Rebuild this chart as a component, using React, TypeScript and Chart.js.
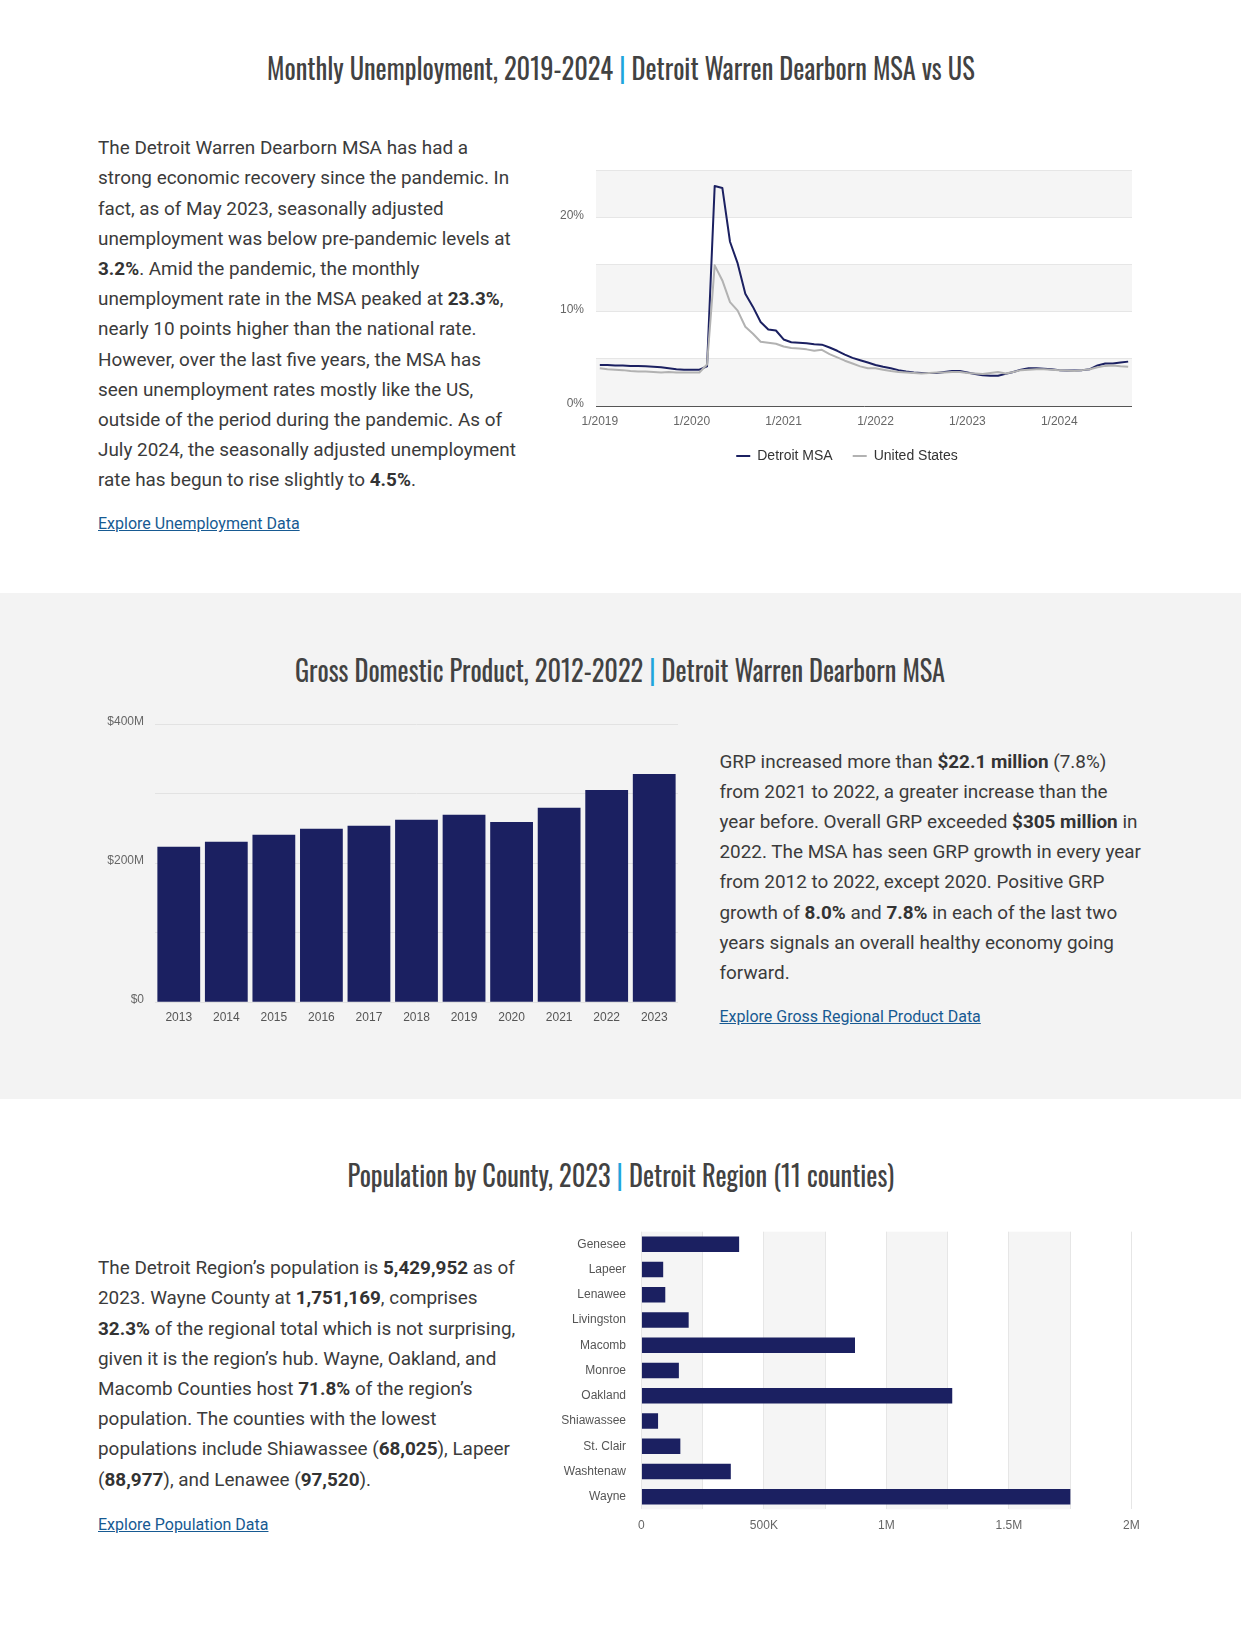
import React, { useEffect, useLayoutEffect, useRef } from 'react';
import { Chart, registerables } from 'chart.js';

Chart.register(...registerables);

const FONT_UI = "'Liberation Sans', Arial, Helvetica, sans-serif";
const FONT_TITLE = "'Oswald', 'Liberation Sans Narrow', 'Arial Narrow', 'DejaVu Sans Condensed', sans-serif";
const FONT_BODY = "Roboto, 'Noto Sans', Arial, sans-serif";
Chart.defaults.font.family = FONT_UI;
Chart.defaults.font.size = 12;
Chart.defaults.color = '#666';

// ---------- DATA ----------
const UNEMP_START_YEAR = 2019;
// Monthly unemployment rate (%), Jan 2019 .. Oct 2024
const UNEMP_DETROIT = [
  4.35, 4.35, 4.3, 4.3, 4.25, 4.25, 4.2, 4.15, 4.1, 4.0, 3.9, 3.85,
  3.85, 3.85, 4.2, 23.3, 23.1, 17.4, 15.1, 11.9, 10.5, 8.9, 8.1, 8.0,
  7.05, 6.76, 6.7, 6.65, 6.55, 6.5, 6.2, 5.85, 5.45, 5.1, 4.85, 4.6,
  4.35, 4.15, 4.0, 3.8, 3.65, 3.55, 3.5, 3.5, 3.5, 3.6, 3.7, 3.7,
  3.55, 3.4, 3.25, 3.2, 3.2, 3.4, 3.6, 3.85, 4.0, 4.0, 3.95, 3.9,
  3.8, 3.75, 3.75, 3.8, 3.9, 4.3, 4.5, 4.5, 4.6, 4.7,
];
const UNEMP_US = [
  4.0, 3.9, 3.85, 3.8, 3.7, 3.65, 3.65, 3.6, 3.55, 3.6, 3.55, 3.55,
  3.55, 3.55, 4.4, 14.9, 13.3, 11.0, 10.1, 8.4, 7.65, 6.8, 6.7, 6.6,
  6.3, 6.15, 6.1, 6.0, 5.85, 5.95, 5.5, 5.15, 4.8, 4.5, 4.2, 4.0,
  4.0, 3.85, 3.7, 3.6, 3.55, 3.5, 3.45, 3.5, 3.55, 3.55, 3.6, 3.6,
  3.5, 3.45, 3.4, 3.5, 3.6, 3.45, 3.6, 3.8, 3.85, 3.9, 3.9, 3.85,
  3.8, 3.75, 3.7, 3.8, 3.9, 4.1, 4.25, 4.3, 4.2, 4.15,
];
const UNEMP_Y_LABELED = [0, 10, 20];

const GDP_YEARS = ['2013', '2014', '2015', '2016', '2017', '2018', '2019', '2020', '2021', '2022', '2023'];
const GDP_VALUES_M = [223.7, 230.9, 241.0, 249.6, 253.9, 262.5, 269.7, 259.6, 279.8, 305.6, 328.6];
const GDP_Y_TICK_VALUES = [0, 200, 400];
const GDP_Y_TICK_TEXT = ['$0', '$200M', '$400M'];

const COUNTIES = ['Genesee', 'Lapeer', 'Lenawee', 'Livingston', 'Macomb', 'Monroe', 'Oakland', 'Shiawassee', 'St. Clair', 'Washtenaw', 'Wayne'];
const COUNTY_POP = [399000, 88977, 97520, 193000, 872000, 153000, 1269000, 68025, 159000, 365000, 1751169];
const POP_X_TICK_VALUES = [0, 500000, 1000000, 1500000, 2000000];
const POP_X_TICK_TEXT = ['0', '500K', '1M', '1.5M', '2M'];

const MONTH_LABELS = UNEMP_DETROIT.map((_, i) => `${(i % 12) + 1}/${UNEMP_START_YEAR + Math.floor(i / 12)}`);

// ---------- STYLE ----------
const NAVY = '#1b2061';
const US_GRAY = '#b2b2b2';
const BAND = '#f5f5f5';
const GRID = '#e6e6e6';
const TEXT = '#3b3b3b';
const LINK = '#175a92';

const bandsPlugin = {
  id: 'bands',
  beforeDraw(chart: any, _args: any, opts: any) {
    if (!opts || !opts.axis) return;
    const scale = chart.scales[opts.axis];
    const { ctx, chartArea } = chart;
    const ticks = scale.ticks;
    ctx.save();
    ctx.fillStyle = opts.color;
    for (let i = 0; i < ticks.length - 1; i += 2) {
      const a = scale.getPixelForValue(ticks[i].value);
      const b = scale.getPixelForValue(ticks[i + 1].value);
      if (scale.isHorizontal()) {
        ctx.fillRect(Math.min(a, b), chartArea.top, Math.abs(b - a), chartArea.bottom - chartArea.top);
      } else {
        ctx.fillRect(chartArea.left, Math.min(a, b), chartArea.right - chartArea.left, Math.abs(b - a));
      }
    }
    ctx.restore();
  },
};

const legendShiftPlugin = {
  id: 'legendShift',
  afterLayout(chart: any, _args: any, opts: any) {
    const d = (opts && opts.dx) || 0;
    if (chart.legend && d) {
      chart.legend.left += d;
      chart.legend.right += d;
    }
  },
};

const noPad = (s: any) => {
  s.paddingTop = 0;
  s.paddingBottom = 0;
  s.paddingLeft = 0;
  s.paddingRight = 0;
};

function ChartCanvas({ make, left, top, width, height }: any) {
  const ref = useRef<HTMLCanvasElement>(null);
  useEffect(() => {
    const chart = new Chart(ref.current as HTMLCanvasElement, make());
    return () => chart.destroy();
  }, []);
  return (
    <canvas
      ref={ref}
      width={width}
      height={height}
      style={{ position: 'absolute', left, top, width, height }}
    />
  );
}

function unempConfig(): any {
  return {
    type: 'line',
    data: {
      labels: MONTH_LABELS,
      datasets: [
        {
          label: 'Detroit MSA', data: UNEMP_DETROIT, borderColor: NAVY, backgroundColor: NAVY,
          borderWidth: 2, pointRadius: 0, tension: 0, borderJoinStyle: 'round', order: 2,
        },
        {
          label: 'United States', data: UNEMP_US, borderColor: US_GRAY, backgroundColor: US_GRAY,
          borderWidth: 2, pointRadius: 0, tension: 0, borderJoinStyle: 'round', order: 1,
        },
      ],
    },
    options: {
      animation: false,
      responsive: false,
      maintainAspectRatio: false,
      layout: { padding: { left: 13, top: 10, right: 0, bottom: 0 } },
      scales: {
        x: {
          type: 'category',
          offset: true,
          grid: { display: false, drawTicks: false },
          border: { display: true, color: '#555', width: 1 },
          ticks: {
            autoSkip: false, maxRotation: 0, minRotation: 0, padding: 8, color: '#666',
            font: { size: 12 },
            callback: (_v: any, i: number) => (i % 12 === 0 ? MONTH_LABELS[i] : ''),
          },
          afterFit: (s: any) => { s.height = 23; noPad(s); },
        },
        y: {
          min: 0, max: 25,
          grid: { color: GRID, drawTicks: false },
          border: { display: false },
          ticks: {
            stepSize: 5, padding: 12, labelOffset: -2, color: '#666', font: { size: 12 },
            callback: (v: number) => (UNEMP_Y_LABELED.includes(v) ? `${v}%` : ''),
          },
          afterFit: (s: any) => { s.width = 43; noPad(s); },
        },
      },
      plugins: {
        tooltip: { enabled: false },
        bands: { axis: 'y', color: BAND },
        legendShift: { dx: 4.5 },
        legend: {
          position: 'bottom',
          labels: {
            boxWidth: 14, boxHeight: 2, padding: 20, color: '#333', font: { size: 14 },
            sort: (a: any, b: any) => a.datasetIndex - b.datasetIndex,
            generateLabels: (chart: any) =>
              (Chart.defaults.plugins.legend.labels.generateLabels as any)(chart).map((it: any) => ({
                ...it, lineWidth: 0, fillStyle: it.strokeStyle,
              })),
          },
        },
      },
    },
    plugins: [bandsPlugin, legendShiftPlugin],
  };
}

function gdpConfig(): any {
  return {
    type: 'bar',
    data: {
      labels: GDP_YEARS,
      datasets: [{
        label: 'GRP', data: GDP_VALUES_M, backgroundColor: NAVY,
        barPercentage: 0.9, categoryPercentage: 1.0,
      }],
    },
    options: {
      animation: false,
      responsive: false,
      maintainAspectRatio: false,
      layout: { padding: { left: 0, top: 24.3, right: 12, bottom: 0 } },
      scales: {
        x: {
          grid: { display: false, drawTicks: false },
          border: { display: false },
          ticks: { padding: 8.5, color: '#555', font: { size: 12 } },
          afterFit: (s: any) => { s.height = 32.7; noPad(s); },
        },
        y: {
          min: 0, max: 400,
          grid: { color: '#e2e2e2', drawTicks: false },
          border: { display: false },
          ticks: {
            stepSize: 100, padding: 11, labelOffset: -3, color: '#666', font: { size: 12 },
            callback: (v: number) => {
              const k = GDP_Y_TICK_VALUES.indexOf(v);
              return k >= 0 ? GDP_Y_TICK_TEXT[k] : '';
            },
          },
          afterFit: (s: any) => { s.width = 65; noPad(s); },
        },
      },
      plugins: { legend: { display: false }, tooltip: { enabled: false } },
    },
  };
}

function popConfig(): any {
  return {
    type: 'bar',
    data: {
      labels: COUNTIES,
      datasets: [{
        label: 'Population', data: COUNTY_POP, backgroundColor: NAVY,
        barPercentage: 0.61, categoryPercentage: 1.0,
      }],
    },
    options: {
      indexAxis: 'y',
      animation: false,
      responsive: false,
      maintainAspectRatio: false,
      layout: { padding: { left: 0, top: 11.7, right: 8.7, bottom: 0 } },
      scales: {
        x: {
          min: 0, max: 2000000,
          grid: { color: GRID, drawTicks: false },
          border: { display: false },
          ticks: {
            stepSize: 250000, padding: 9, color: '#666', font: { size: 12 },
            callback: (v: number) => {
              const k = POP_X_TICK_VALUES.indexOf(v);
              return k >= 0 ? POP_X_TICK_TEXT[k] : '';
            },
          },
          afterFit: (s: any) => { s.height = 30.7; noPad(s); },
        },
        y: {
          grid: { display: false, drawTicks: false },
          border: { display: false },
          ticks: { padding: 15.4, color: '#555', font: { size: 12 }, autoSkip: false },
          afterFit: (s: any) => { s.width = 101.4; noPad(s); },
        },
      },
      plugins: {
        legend: { display: false },
        tooltip: { enabled: false },
        bands: { axis: 'x', color: BAND },
      },
    },
    plugins: [bandsPlugin],
  };
}

function Title({ main, sub, top, target }: any) {
  const ref = useRef<HTMLSpanElement>(null);
  useLayoutEffect(() => {
    const el = ref.current as HTMLSpanElement;
    el.style.transform = 'none';
    const w = el.offsetWidth;
    if (w > 0) el.style.transform = `scaleX(${target / w})`;
  }, []);
  return (
    <div style={{ position: 'absolute', left: 0, width: 1241, top, height: 40, lineHeight: '40px', textAlign: 'center' }}>
      <span
        ref={ref}
        style={{
          display: 'inline-block', fontFamily: FONT_TITLE, fontSize: 28, color: '#424242',
          whiteSpace: 'nowrap', transformOrigin: '50% 50%',
        }}
      >
        {main} <span style={{ color: '#1fa5dc' }}>|</span> {sub}
      </span>
    </div>
  );
}

function renderLine(line: string, key: number) {
  const parts = line.split('**');
  return (
    <div key={key}>
      {parts.map((p, i) => (i % 2 === 1 ? <b key={i} style={{ fontWeight: 700, color: '#333' }}>{p}</b> : <span key={i}>{p}</span>))}
    </div>
  );
}

function Para({ lines, left, top }: any) {
  return (
    <div
      style={{
        position: 'absolute', left, top, fontFamily: FONT_BODY, fontSize: 18.9, lineHeight: '30.2px',
        color: TEXT, whiteSpace: 'nowrap',
      }}
    >
      {lines.map((l: string, i: number) => renderLine(l, i))}
    </div>
  );
}

function Link({ text, left, top }: any) {
  return (
    <div style={{ position: 'absolute', left, top, fontFamily: FONT_BODY, fontSize: 16, lineHeight: '30px', whiteSpace: 'nowrap' }}>
      <a href="#" style={{ color: LINK, textDecoration: 'underline' }}>{text}</a>
    </div>
  );
}

const P1 = [
  'The Detroit Warren Dearborn MSA has had a',
  'strong economic recovery since the pandemic. In',
  'fact, as of May 2023, seasonally adjusted',
  'unemployment was below pre-pandemic levels at',
  '**3.2%**. Amid the pandemic, the monthly',
  'unemployment rate in the MSA peaked at **23.3%**,',
  'nearly 10 points higher than the national rate.',
  'However, over the last five years, the MSA has',
  'seen unemployment rates mostly like the US,',
  'outside of the period during the pandemic. As of',
  'July 2024, the seasonally adjusted unemployment',
  'rate has begun to rise slightly to **4.5%**.',
];
const P2 = [
  'GRP increased more than **$22.1 million** (7.8%)',
  'from 2021 to 2022, a greater increase than the',
  'year before. Overall GRP exceeded **$305 million** in',
  '2022. The MSA has seen GRP growth in every year',
  'from 2012 to 2022, except 2020. Positive GRP',
  'growth of **8.0%** and **7.8%** in each of the last two',
  'years signals an overall healthy economy going',
  'forward.',
];
const P3 = [
  'The Detroit Region’s population is **5,429,952** as of',
  '2023. Wayne County at **1,751,169**, comprises',
  '**32.3%** of the regional total which is not surprising,',
  'given it is the region’s hub. Wayne, Oakland, and',
  'Macomb Counties host **71.8%** of the region’s',
  'population. The counties with the lowest',
  'populations include Shiawassee (**68,025**), Lapeer',
  '(**88,977**), and Lenawee (**97,520**).',
];

export default function App() {
  return (
    <div style={{ position: 'absolute', left: 0, top: 0, width: 1241, height: 1652, background: '#fff', overflow: 'hidden' }}>
      <div style={{ position: 'absolute', left: 0, top: 593, width: 1241, height: 506, background: '#f3f3f3' }} />

      <Title main="Monthly Unemployment, 2019-2024" sub="Detroit Warren Dearborn MSA vs US" top={47.6} target={708} />
      <Para lines={P1} left={98} top={133.2} />
      <Link text="Explore Unemployment Data" left={98} top={509.3} />
      <ChartCanvas make={unempConfig} left={540} top={160} width={592} height={313} />

      <Title main="Gross Domestic Product, 2012-2022" sub="Detroit Warren Dearborn MSA" top={650.2} target={650} />
      <ChartCanvas make={gdpConfig} left={90} top={700} width={600} height={335} />
      <Para lines={P2} left={719.5} top={746.6} />
      <Link text="Explore Gross Regional Product Data" left={719.5} top={1001.7} />

      <Title main="Population by County, 2023" sub="Detroit Region (11 counties)" top={1154.9} target={547} />
      <Para lines={P3} left={98} top={1253.2} />
      <Link text="Explore Population Data" left={98} top={1510.3} />
      <ChartCanvas make={popConfig} left={540} top={1220} width={600} height={320} />
    </div>
  );
}
